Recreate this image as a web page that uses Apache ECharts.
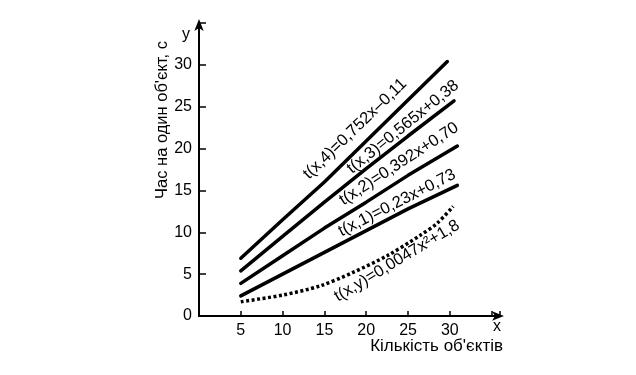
<!DOCTYPE html>
<html>
<head>
<meta charset="utf-8">
<script src="https://cdn.jsdelivr.net/npm/echarts@6/dist/echarts.min.js"></script>
<style>
  html, body { margin: 0; padding: 0; background: #fff; }
  #chart { width: 636px; height: 375px; }
</style>
</head>
<body>
<div id="chart"></div>
<script>
const chart = echarts.init(document.getElementById('chart'));

// values
const line4 = [[5, 6.9], [10, 11.5], [15, 16.0], [20, 20.9], [25, 25.8], [29.7, 30.4]];
const line3 = [[5, 5.4], [10, 9.5], [15, 13.6], [20, 17.6], [25, 21.5], [30.5, 25.7]];
const line2 = [[5, 3.9], [10, 7.2], [15, 10.5], [20, 13.6], [25, 16.8], [30.9, 20.3]];
const line1 = [[5, 2.4], [10, 5.0], [15, 7.6], [20, 10.2], [25, 12.8], [30.9, 15.6]];
const lineY = [[5, 1.7], [10, 2.5], [14.5, 3.6], [18.4, 5.2], [22.5, 7.2], [26.4, 9.6], [28.5, 11.1], [30.4, 13.1]];

const labels = [
  { text: 't(x,4)=0,752x–0,11', x: 355, y: 129, angle: 44 },
  { text: 't(x,3)=0,565x+0,38', x: 403, y: 127, angle: 39 },
  { text: 't(x,2)=0,392x+0,70', x: 399, y: 164, angle: 33 },
  { text: 't(x,1)=0,23x+0,73', x: 397, y: 203, angle: 27 },
  { text: 't(x,y)=0,0047x²+1,8', x: 397, y: 261, angle: 31 }
];

const font = '"Liberation Sans", Arial, sans-serif';
const ink = '#000';

const solid = (data) => ({
  type: 'line',
  data: data,
  symbol: 'none',
  lineStyle: { color: ink, width: 3.5, cap: 'round' },
  silent: true
});

chart.setOption({
  animation: false,
  grid: { left: 199, right: 136, top: 23, bottom: 59 },
  xAxis: {
    type: 'value',
    min: 0,
    max: 36,
    interval: 5,
    splitLine: { show: false },
    axisLine: { lineStyle: { color: ink, width: 2 }, symbol: ['none', 'arrow'], symbolSize: [7, 12], symbolOffset: [0, 4] },
    axisTick: { inside: true, length: 5, lineStyle: { color: ink, width: 1.5 } },
    axisLabel: {
      color: ink, fontSize: 16, fontFamily: font, margin: 7,
      formatter: (v) => (v === 0 || v > 30 ? '' : v)
    }
  },
  yAxis: {
    type: 'value',
    min: 0,
    max: 35,
    interval: 5,
    splitLine: { show: false },
    axisLine: { lineStyle: { color: ink, width: 2 }, symbol: ['none', 'arrow'], symbolSize: [7, 12], symbolOffset: [0, 4] },
    axisTick: { inside: true, length: 7, lineStyle: { color: ink, width: 1.5 } },
    axisLabel: {
      color: ink, fontSize: 16, fontFamily: font, margin: 7,
      formatter: (v) => (v > 30 ? '' : v)
    }
  },
  graphic: [
    { type: 'text', x: 186, y: 35, style: { text: 'y', fill: ink, font: '16px ' + font, align: 'center', verticalAlign: 'middle' } },
    { type: 'text', x: 497, y: 327, style: { text: 'x', fill: ink, font: '16px ' + font, align: 'center', verticalAlign: 'middle' } },
    { type: 'text', x: 503, y: 346, style: { text: 'Кількість об\'єктів', fill: ink, font: '17px ' + font, align: 'right', verticalAlign: 'middle' } },
    { type: 'text', x: 162, y: 120, rotation: Math.PI / 2, style: { text: 'Час на один об\'єкт, с', fill: ink, font: '16.5px ' + font, align: 'center', verticalAlign: 'middle' } }
  ].concat(labels.map((l) => ({
    type: 'text',
    x: l.x,
    y: l.y,
    rotation: l.angle * Math.PI / 180,
    style: { text: l.text, fill: ink, font: '16.5px ' + font, align: 'center', verticalAlign: 'middle' }
  }))),
  series: [
    solid(line4),
    solid(line3),
    solid(line2),
    solid(line1),
    {
      type: 'line',
      data: lineY,
      symbol: 'none',
      smooth: 0.3,
      lineStyle: { color: ink, width: 3.5, type: [3, 2.5] },
      silent: true
    }
  ]
});
</script>
</body>
</html>
